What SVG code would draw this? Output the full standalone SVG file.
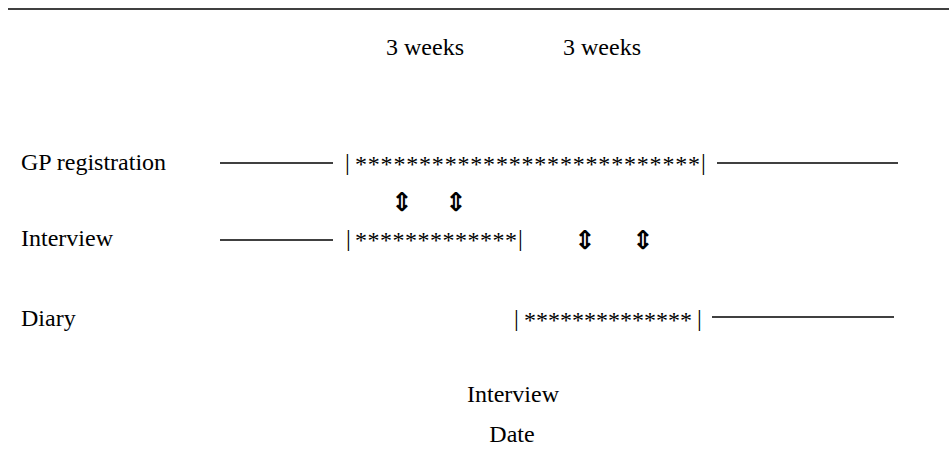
<svg xmlns="http://www.w3.org/2000/svg" width="949" height="472" viewBox="0 0 949 472">
  <style>
    .t { font-family: "Liberation Serif", "Times New Roman", serif; font-size: 24px; fill: #000; }
    .a { font-family: "DejaVu Sans", "DejaVu Serif", sans-serif; font-size: 26px; font-weight: bold; fill: #000; text-anchor: middle; }
    .ln { stroke: #000; stroke-width: 1.6; fill: none; }
  </style>
  <rect width="949" height="472" fill="#fff"/>

  <!-- header rule -->
  <line class="ln" x1="8" y1="9" x2="949" y2="9" stroke-width="2"/>

  <!-- period headings -->
  <g id="headings">
    <text class="t" x="386" y="55">3 weeks</text>
    <text class="t" x="563" y="55">3 weeks</text>
  </g>

  <!-- GP registration row -->
  <g id="gp-registration">
    <text class="t" x="21" y="170">GP registration</text>
    <text class="t" x="345" y="170">|</text>
    <text class="t" x="355" y="172" textLength="345" lengthAdjust="spacing">***************************</text>
    <text class="t" x="701" y="170">|</text>
  </g>

  <!-- Interview row -->
  <g id="interview">
    <text class="t" x="21" y="246">Interview</text>
    <text class="t" x="346" y="246">|</text>
    <text class="t" x="355" y="248" textLength="162" lengthAdjust="spacing">*************</text>
    <text class="t" x="518" y="246">|</text>
  </g>

  <!-- Diary row -->
  <g id="diary">
    <text class="t" x="21" y="326">Diary</text>
    <text class="t" x="514" y="326">|</text>
    <text class="t" x="524" y="328" textLength="168" lengthAdjust="spacing">**************</text>
    <text class="t" x="697" y="326">|</text>
  </g>

  <!-- interview date caption -->
  <g id="interview-date">
    <text class="t" x="513" y="402" text-anchor="middle">Interview</text>
    <text class="t" x="512" y="442" text-anchor="middle">Date</text>
  </g>

  <!-- time lines and window markers -->
  <g id="connectors">
    <line class="ln" x1="220" y1="163" x2="333" y2="163"/>
    <line class="ln" x1="717" y1="163" x2="898" y2="163"/>
    <line class="ln" x1="220" y1="240" x2="333" y2="240"/>
    <line class="ln" x1="712" y1="317" x2="894" y2="317"/>
    <text class="a" x="402" y="211">⇕</text>
    <text class="a" x="456" y="211">⇕</text>
    <text class="a" x="585" y="249">⇕</text>
    <text class="a" x="643" y="249">⇕</text>
  </g>
</svg>
